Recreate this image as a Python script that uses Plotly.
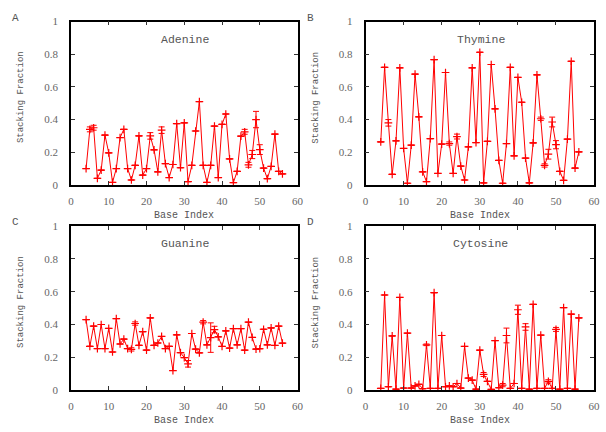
import plotly.graph_objects as go

# Base positions along the strand
base_index = list(range(4, 57))

adenine = [0.10, 0.34, 0.35, 0.04, 0.09, 0.305, 0.196, 0.015, 0.10, 0.29,
           0.34, 0.10, 0.03, 0.12, 0.30, 0.06, 0.10, 0.30, 0.215, 0.08,
           0.335, 0.13, 0.045, 0.125, 0.375, 0.105, 0.38, 0.02, 0.12, 0.33,
           0.51, 0.12, 0.015, 0.12, 0.36, 0.045, 0.371, 0.434, 0.159, 0.014,
           0.083, 0.298, 0.325, 0.123, 0.186, 0.40, 0.216, 0.103, 0.038, 0.113,
           0.311, 0.083, 0.067]
adenine_err = [0, 0.015, 0.015, 0, 0, 0, 0, 0, 0, 0,
               0, 0, 0, 0, 0, 0, 0, 0.02, 0, 0,
               0.02, 0, 0, 0, 0, 0, 0, 0, 0, 0,
               0, 0, 0, 0, 0, 0, 0, 0, 0, 0,
               0, 0, 0.015, 0.015, 0.025, 0.05, 0.03, 0, 0, 0,
               0, 0, 0]

thymine = [0.263, 0.72, 0.38, 0.065, 0.27, 0.717, 0.223, 0.01, 0.243, 0.678,
           0.417, 0.08, 0.02, 0.283, 0.767, 0.07, 0.25, 0.688, 0.253, 0.07,
           0.296, 0.115, 0.03, 0.233, 0.717, 0.259, 0.812, 0.012, 0.267, 0.737,
           0.466, 0.15, 0.01, 0.253, 0.72, 0.178, 0.658, 0.506, 0.164, 0.012,
           0.257, 0.674, 0.405, 0.119, 0.188, 0.385, 0.246, 0.083, 0.028, 0.28,
           0.757, 0.103, 0.202]
thymine_err = [0, 0, 0.02, 0, 0, 0, 0, 0, 0, 0,
               0, 0, 0, 0, 0, 0, 0, 0, 0.01, 0,
               0.015, 0, 0, 0, 0, 0, 0, 0, 0, 0,
               0, 0, 0, 0, 0, 0, 0, 0, 0, 0,
               0, 0, 0.01, 0.01, 0.03, 0.03, 0.025, 0, 0, 0,
               0, 0, 0]

guanine = [0.43, 0.267, 0.39, 0.253, 0.40, 0.253, 0.376, 0.232, 0.436, 0.281,
           0.311, 0.253, 0.248, 0.406, 0.273, 0.356, 0.244, 0.44, 0.273, 0.287,
           0.327, 0.253, 0.267, 0.119, 0.337, 0.228, 0.198, 0.16, 0.345, 0.25,
           0.227, 0.414, 0.276, 0.32, 0.369, 0.325, 0.266, 0.361, 0.256, 0.375,
           0.276, 0.375, 0.243, 0.414, 0.321, 0.25, 0.252, 0.371, 0.276, 0.379,
           0.272, 0.39, 0.286]
guanine_err = [0, 0, 0, 0, 0, 0, 0, 0, 0, 0,
               0, 0, 0.01, 0.01, 0, 0, 0, 0, 0, 0,
               0, 0, 0, 0, 0, 0, 0, 0.02, 0, 0,
               0, 0.01, 0, 0.09, 0.02, 0, 0, 0, 0, 0,
               0, 0, 0, 0, 0, 0, 0, 0, 0, 0,
               0, 0, 0]

cytosine = [0.01, 0.58, 0.02, 0.33, 0.005, 0.565, 0.012, 0.347, 0.012, 0.025,
            0.035, 0.008, 0.276, 0.01, 0.594, 0.01, 0.333, 0.02, 0.025, 0.02,
            0.04, 0.012, 0.266, 0.073, 0.06, 0.005, 0.243, 0.095, 0.053, 0.004,
            0.302, 0.014, 0.03, 0.333, 0.01, 0.04, 0.49, 0.01, 0.385, 0.005,
            0.523, 0.01, 0.335, 0.01, 0.053, 0.01, 0.37, 0.005, 0.503, 0.01,
            0.463, 0.005, 0.44]
cytosine_err = [0, 0, 0, 0, 0, 0, 0, 0, 0, 0,
                0, 0, 0.005, 0, 0, 0, 0, 0, 0, 0,
                0, 0, 0, 0, 0, 0, 0, 0.012, 0, 0,
                0, 0, 0.01, 0.045, 0, 0, 0.028, 0, 0.02, 0,
                0, 0, 0, 0, 0.01, 0, 0.012, 0, 0, 0,
                0, 0, 0]

panels = [
    ("A", "Adenine", adenine, adenine_err),
    ("B", "Thymine", thymine, thymine_err),
    ("C", "Guanine", guanine, guanine_err),
    ("D", "Cytosine", cytosine, cytosine_err),
]

W, H = 606, 432
# plot-area boxes in pixels: (left, right, top, bottom)
boxes = [(69, 299, 16, 184), (368, 600, 16, 184),
         (69, 299, 226.5, 395), (368, 600, 226.5, 395)]

RED = "#ff0000"
MONO = "Liberation Mono, Courier New, monospace"
SERIF = "Liberation Serif, Times New Roman, serif"
TEXT = "#555555"

fig = go.Figure()
annotations = []
for k, ((letter, name, vals, errs), (l, r, t, b)) in enumerate(zip(panels, boxes)):
    n = "" if k == 0 else str(k + 1)
    fig.add_trace(go.Scatter(
        x=base_index, y=vals,
        mode="lines+markers",
        line=dict(color=RED, width=1),
        marker=dict(symbol="cross-thin", size=5.5, line=dict(color=RED, width=1.2)),
        error_y=dict(type="data", array=errs, visible=True,
                     color=RED, thickness=1, width=3),
        xaxis="x" + n, yaxis="y" + n, showlegend=False,
    ))
    axis_common = dict(
        showline=True, linecolor="black", linewidth=1.5, mirror="ticks",
        ticks="inside", ticklen=4, tickcolor="#333", tickwidth=1,
        showgrid=False, zeroline=False,
        tickfont=dict(family=SERIF, size=11, color="#666"),
    )
    fig.update_layout(**{
        "xaxis" + n: dict(axis_common, domain=[l / W, r / W], range=[0, 60],
                          tickvals=[0, 10, 20, 30, 40, 50, 60],
                          anchor="y" + n, ticklabelstandoff=5),
        "yaxis" + n: dict(axis_common, domain=[1 - b / H, 1 - t / H], range=[0, 1],
                          tickvals=[0, 0.2, 0.4, 0.6, 0.8, 1],
                          ticktext=["0", "0.2", "0.4", "0.6", "0.8", "1"],
                          anchor="x" + n, ticklabelstandoff=9),
    })
    cx = (l + r) / 2
    annotations += [
        dict(text=name, x=(cx + 1) / W, y=1 - (t + 18) / H, xref="paper", yref="paper",
             showarrow=False, font=dict(family=MONO, size=11.5, color=TEXT),
             xanchor="center", yanchor="middle"),
        dict(text=letter, x=(l - 56) / W, y=1 - (t - 4) / H, xref="paper", yref="paper",
             showarrow=False, font=dict(family=MONO, size=11, color=TEXT),
             xanchor="center", yanchor="middle"),
        dict(text="Base Index", x=cx / W, y=1 - (b + 31) / H, xref="paper", yref="paper",
             showarrow=False, font=dict(family=MONO, size=10, color=TEXT),
             xanchor="center", yanchor="middle"),
        dict(text="Stacking Fraction", x=(l - 50) / W, y=1 - ((t + b) / 2 - 6) / H,
             xref="paper", yref="paper", textangle=-90,
             showarrow=False, font=dict(family=MONO, size=9, color=TEXT),
             xanchor="center", yanchor="middle"),
    ]

fig.update_layout(
    width=W, height=H,
    margin=dict(l=0, r=0, t=0, b=0),
    paper_bgcolor="white", plot_bgcolor="white",
    annotations=annotations,
)

fig.write_html("out.html")
